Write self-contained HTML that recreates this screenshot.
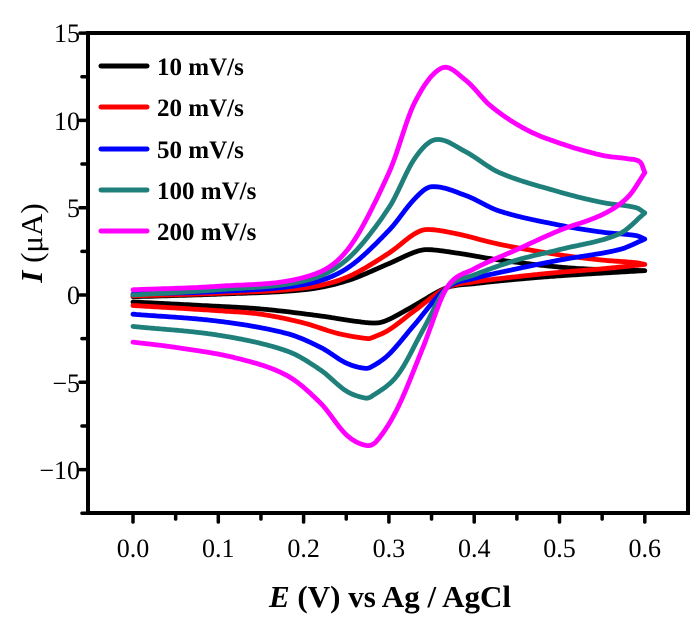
<!DOCTYPE html>
<html><head><meta charset="utf-8"><style>
html,body{margin:0;padding:0;background:#fff;}
svg{display:block;}
text{font-family:"Liberation Serif",serif;fill:#000;}
</style></head><body>
<svg id="s" width="700" height="625" viewBox="0 0 700 625" xmlns="http://www.w3.org/2000/svg">
<g id="curves" fill="none" stroke-width="4.8" stroke-linejoin="round" stroke-linecap="round"></g>
<rect x="88" y="33" width="600" height="480" fill="none" stroke="#000" stroke-width="4"/>
<g id="ticks" stroke="#000" stroke-width="3.5" stroke-linecap="round"></g>
<g font-size="26" text-anchor="end">
<text x="80" y="42">15</text><text x="80" y="130">10</text><text x="80" y="217">5</text>
<text x="80" y="304">0</text><text x="80" y="392">−5</text><text x="80" y="479">−10</text>
</g>
<g font-size="26" text-anchor="middle" id="xl"></g>
<text x="390" y="607" font-size="31" font-weight="bold" text-anchor="middle"><tspan font-style="italic">E</tspan> (V) vs Ag / AgCl</text>
<text transform="translate(42,243) rotate(-90)" font-size="31" font-weight="bold" text-anchor="middle"><tspan font-style="italic">I</tspan><tspan font-weight="normal"> (μA)</tspan></text>
<g stroke-width="5" stroke-linecap="round">
<line x1="101" y1="66" x2="147" y2="66" stroke="#000"/>
<line x1="101" y1="107" x2="147" y2="107" stroke="#f00"/>
<line x1="101" y1="149" x2="147" y2="149" stroke="#00f"/>
<line x1="101" y1="190" x2="147" y2="190" stroke="#1f7f7a"/>
<line x1="101" y1="231" x2="147" y2="231" stroke="#f0f"/>
</g>
<g font-size="25" font-weight="bold">
<text x="157" y="75">10 mV/s</text><text x="157" y="116">20 mV/s</text>
<text x="157" y="158">50 mV/s</text><text x="157" y="199">100 mV/s</text>
<text x="157" y="240">200 mV/s</text>
</g>
</svg>
<script>
var X=function(v){return 133+853*v},Y=function(i){return 295-17.46*i};
var ns="http://www.w3.org/2000/svg",tk=document.getElementById('ticks'),xl=document.getElementById('xl');
function L(a,b,c,d){var l=document.createElementNS(ns,'line');l.setAttribute('x1',a);l.setAttribute('y1',b);l.setAttribute('x2',c);l.setAttribute('y2',d);tk.appendChild(l);}
for(var k=0;k<=12;k++){var v=k*0.05,x=X(v);L(x,513,x,k%2?519:522);if(k%2==0){var t=document.createElementNS(ns,'text');t.setAttribute('x',x);t.setAttribute('y',557);t.textContent=(v).toFixed(1);xl.appendChild(t);}}
for(var k=-5;k<=6;k++){var i=k*2.5,y=Y(i);if(y>515)continue;L(88,y,k%2?82:80,y);}
var D=[
["#000",[[0,-0.1],[0.1,0.05],[0.2,0.3],[0.25,0.8],[0.3,1.8],[0.33,2.45],[0.345,2.6],[0.38,2.4],[0.43,2.0],[0.5,1.6],[0.55,1.45],[0.6,1.4]],
 [[0.6,1.4],[0.5,1.1],[0.45,0.9],[0.4,0.65],[0.368,0.42],[0.33,-0.6],[0.3,-1.4],[0.286,-1.6],[0.26,-1.5],[0.22,-1.2],[0.15,-0.8],[0.08,-0.6],[0,-0.4]]],
["#f00",[[0,-0.05],[0.1,0.1],[0.2,0.4],[0.25,1.0],[0.3,2.4],[0.33,3.5],[0.345,3.75],[0.38,3.5],[0.43,2.9],[0.5,2.3],[0.55,2.0],[0.59,1.85],[0.6,1.75]],
 [[0.6,1.75],[0.55,1.5],[0.5,1.3],[0.45,1.05],[0.4,0.75],[0.368,0.42],[0.33,-0.9],[0.3,-2.0],[0.28,-2.45],[0.275,-2.5],[0.24,-2.2],[0.2,-1.6],[0.15,-1.1],[0.1,-0.9],[0,-0.6]]],
["#00f",[[0,0.05],[0.1,0.2],[0.2,0.6],[0.25,1.5],[0.3,3.7],[0.33,5.5],[0.35,6.2],[0.39,5.7],[0.43,4.8],[0.5,4.0],[0.55,3.6],[0.59,3.4],[0.6,3.2]],
 [[0.6,3.2],[0.57,2.6],[0.5,2.0],[0.45,1.5],[0.4,0.95],[0.368,0.42],[0.33,-1.7],[0.3,-3.4],[0.28,-4.1],[0.272,-4.2],[0.25,-3.9],[0.22,-3.0],[0.18,-2.2],[0.1,-1.5],[0,-1.1]]],
["#1f7f7a",[[0,0.0],[0.1,0.3],[0.2,0.8],[0.25,2],[0.3,5],[0.33,7.8],[0.355,8.9],[0.39,8.2],[0.43,7],[0.5,5.9],[0.55,5.3],[0.59,5.0],[0.6,4.7]],
 [[0.6,4.7],[0.57,3.5],[0.5,2.6],[0.45,2.0],[0.4,1.15],[0.368,0.42],[0.34,-2.0],[0.31,-4.6],[0.28,-5.8],[0.272,-5.9],[0.25,-5.5],[0.22,-4.3],[0.18,-3.2],[0.1,-2.3],[0,-1.8]]],
["#f0f",[[0,0.3],[0.1,0.5],[0.2,1.0],[0.25,2.5],[0.3,7],[0.33,11],[0.362,13],[0.39,12.3],[0.42,10.8],[0.46,9.5],[0.5,8.7],[0.55,8.0],[0.58,7.8],[0.595,7.6],[0.6,7.0]],
 [[0.6,7.0],[0.58,5.6],[0.55,4.6],[0.5,3.7],[0.45,2.6],[0.4,1.5],[0.368,0.42],[0.34,-3],[0.31,-6.5],[0.285,-8.4],[0.272,-8.6],[0.25,-8],[0.22,-6.2],[0.18,-4.6],[0.12,-3.6],[0.05,-3.0],[0,-2.7]]]];
function interp(p){var n=p.length,m=[];for(var i=0;i<n;i++){var a=p[Math.max(0,i-1)],b=p[Math.min(n-1,i+1)];m.push((b[1]-a[1])/(b[0]-a[0]));}
var out=[];for(var i=0;i<n-1;i++){var x0=p[i][0],x1=p[i+1][0],h=x1-x0,N=Math.max(2,Math.ceil(Math.abs(h)/0.002));
for(var j=0;j<N;j++){var t=j/N,t2=t*t,t3=t2*t;var y=(2*t3-3*t2+1)*p[i][1]+(t3-2*t2+t)*h*m[i]+(-2*t3+3*t2)*p[i+1][1]+(t3-t2)*h*m[i+1];out.push([x0+h*t,y]);}}
out.push(p[n-1]);return out;}
var g=document.getElementById('curves');
D.forEach(function(c){var pts=interp(c[1]).concat(interp(c[2]).slice(1));
var d=pts.map(function(q,i){return(i?"L":"M")+X(q[0]).toFixed(1)+","+Y(q[1]).toFixed(1)}).join("");
var e=document.createElementNS(ns,'path');e.setAttribute('d',d);e.setAttribute('stroke',c[0]);g.appendChild(e);});
</script>
</body></html>
